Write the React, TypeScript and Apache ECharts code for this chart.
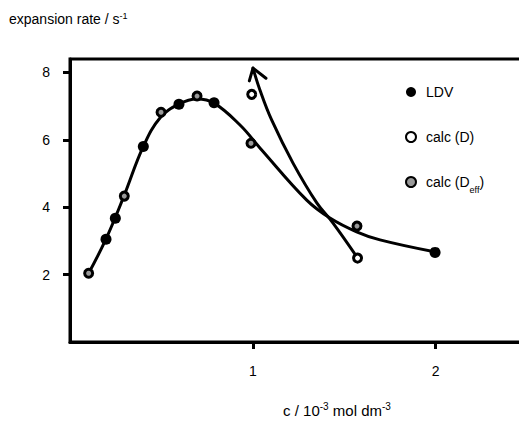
import React, { useEffect, useRef } from "react";
import * as echarts from "echarts";

// LDV measurements (filled)
const ldvC = [0.197, 0.248, 0.401, 0.596, 0.788, 1.997];
const ldvRate = [3.05, 3.67, 5.8, 7.06, 7.1, 2.66];
// calc (D) (open, white centre)
const calcDC = [0.994, 1.573];
const calcDRate = [7.35, 2.49];
// calc (D_eff) (open, grey centre)
const calcEffC = [0.102, 0.297, 0.498, 0.695, 0.99, 1.57];
const calcEffRate = [2.04, 4.33, 6.82, 7.3, 5.9, 3.44];
// hand-drawn fit through LDV / D_eff
const fitC = [0.102, 0.197, 0.295, 0.4, 0.492, 0.596, 0.695, 0.788, 0.93, 1.039, 1.295, 1.422, 1.568, 1.696, 2.0];
const fitRate = [2.04, 3.06, 4.33, 5.79, 6.65, 7.06, 7.21, 7.09, 6.44, 5.76, 4.21, 3.68, 3.27, 3.03, 2.67];
// arrow curve through calc (D)
const arrowC = [1.57, 1.439, 1.35, 1.22, 1.103, 1.039, 1.001];
const arrowRate = [2.52, 3.53, 4.13, 5.31, 6.59, 7.48, 8.13];
// arrow head (left wing, tip, right wing)
const headC = [0.981, 1.001, 1.072];
const headRate = [7.75, 8.13, 7.83];

const yTicks = [2, 4, 6, 8];
const xTicks = [1, 2];

const zip = (a: number[], b: number[]) => a.map((v, i) => [v, b[i]]);

const FONT = "'Liberation Sans', Arial, Helvetica, sans-serif";

export default function App() {
  const ref = useRef<HTMLDivElement>(null);
  useEffect(() => {
    if (!ref.current) return;
    const chart = echarts.init(ref.current, null, { renderer: "svg" });
    const sup = { fontSize: 9, fontFamily: FONT, color: "#000", verticalAlign: "top" as const, lineHeight: 16 };
    const main = { fontSize: 14, fontFamily: FONT, color: "#000", lineHeight: 16 };
    const supX = { fontSize: 10, fontFamily: FONT, color: "#000", verticalAlign: "top" as const, lineHeight: 17 };
    const mainX = { fontSize: 15, fontFamily: FONT, color: "#000", lineHeight: 17 };
    chart.setOption({
      animation: false,
      backgroundColor: "#fff",
      textStyle: { fontFamily: FONT },
      grid: {
        left: 70,
        top: 59,
        width: 457,
        height: 283,
        containLabel: false,
        outerBoundsMode: "none",
        show: true,
        borderColor: "#000",
        borderWidth: 3,
      },
      xAxis: {
        type: "value",
        min: 0,
        max: 2.5,
        interval: 1,
        splitLine: { show: false },
        axisLine: { show: true, onZero: false, lineStyle: { color: "#000", width: 3 } },
        axisTick: { show: true, customValues: xTicks, length: 7, lineStyle: { color: "#000", width: 3 } },
        axisLabel: {
          customValues: xTicks,
          margin: 22,
          color: "#000",
          fontSize: 14,
          fontFamily: FONT,
          formatter: (v: number) => (v === 1 || v === 2 ? String(v) : ""),
        },
      },
      yAxis: {
        type: "value",
        min: 0,
        max: 8.4,
        interval: 2,
        splitLine: { show: false },
        axisLine: { show: true, onZero: false, lineStyle: { color: "#000", width: 3 } },
        axisTick: { show: true, customValues: yTicks, length: 7, lineStyle: { color: "#000", width: 3 } },
        axisLabel: {
          customValues: yTicks,
          margin: 20,
          color: "#000",
          fontSize: 14,
          fontFamily: FONT,
          formatter: (v: number) => (v === 0 ? "" : String(v)),
        },
      },
      legend: {
        data: ["LDV", "calc (D)", "calc (D_eff)"],
        orient: "vertical",
        left: 400,
        top: 80,
        itemWidth: 10,
        itemHeight: 10,
        itemGap: 31,
        textStyle: {
          fontSize: 14,
          fontFamily: FONT,
          color: "#000",
          padding: [0, 0, 0, 5],
          rich: {
            sub: { fontSize: 9, fontFamily: FONT, color: "#000", verticalAlign: "bottom", lineHeight: 16, padding: [0, 0, -4, 0] },
          },
        },
        formatter: (name: string) => (name === "calc (D_eff)" ? "calc (D{sub|eff})" : name),
      },
      graphic: [
        {
          type: "text",
          left: 9,
          top: 11,
          style: {
            text: "{m|expansion rate / s}{s|-1}",
            rich: { m: main, s: sup },
          },
        },
        {
          type: "text",
          x: 337,
          y: 410,
          style: {
            text: "{m|c / 10}{s|-3}{m| mol dm}{s|-3}",
            align: "center",
            verticalAlign: "middle",
            rich: { m: mainX, s: supX },
          },
        },
      ],
      series: [
        {
          type: "line",
          name: "fit",
          data: zip(fitC, fitRate),
          smooth: 0.4,
          showSymbol: false,
          symbol: "none",
          lineStyle: { color: "#000", width: 3, cap: "round" },
          z: 2,
        },
        {
          type: "line",
          name: "arrow",
          data: zip(arrowC, arrowRate),
          smooth: 0.4,
          showSymbol: false,
          symbol: "none",
          lineStyle: { color: "#000", width: 3, cap: "round" },
          z: 2,
        },
        {
          type: "line",
          name: "head",
          data: zip(headC, headRate),
          smooth: false,
          showSymbol: false,
          symbol: "none",
          lineStyle: { color: "#000", width: 3, cap: "round", join: "round" },
          z: 2,
        },
        {
          type: "scatter",
          name: "LDV",
          data: zip(ldvC, ldvRate),
          symbol: "circle",
          symbolSize: 11,
          itemStyle: { color: "#000", borderColor: "#000", borderWidth: 0, opacity: 1 },
          z: 5,
        },
        {
          type: "scatter",
          name: "calc (D)",
          data: zip(calcDC, calcDRate),
          symbol: "circle",
          symbolSize: 8,
          itemStyle: { color: "#fff", borderColor: "#000", borderWidth: 3, opacity: 1 },
          z: 5,
        },
        {
          type: "scatter",
          name: "calc (D_eff)",
          data: zip(calcEffC, calcEffRate),
          symbol: "circle",
          symbolSize: 8,
          itemStyle: { color: "#999", borderColor: "#000", borderWidth: 3, opacity: 1 },
          z: 5,
        },
      ],
    });
    return () => chart.dispose();
  }, []);
  return <div ref={ref} style={{ width: 519, height: 426, position: "absolute", left: 0, top: 0 }} />;
}
